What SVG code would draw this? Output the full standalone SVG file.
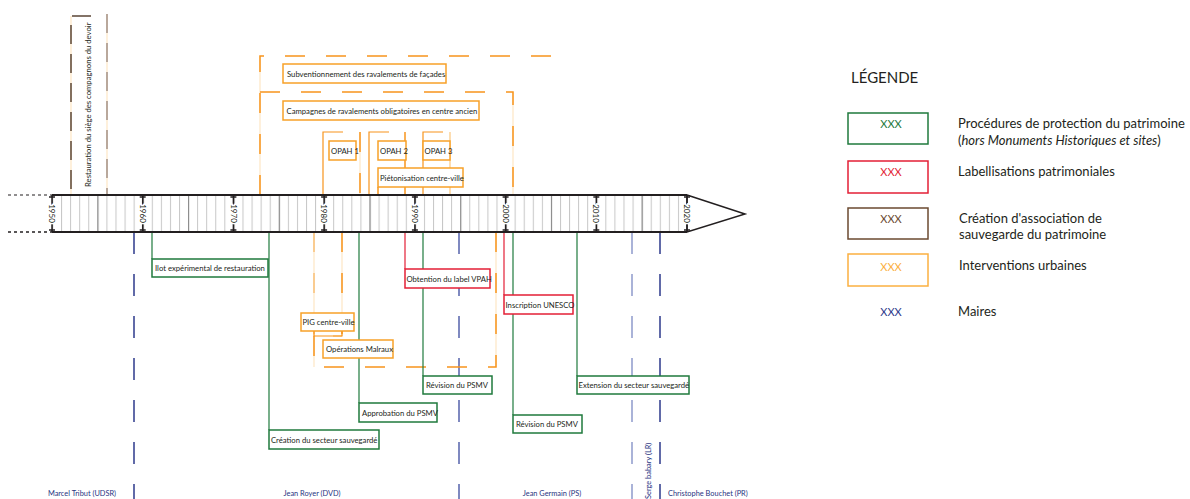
<svg xmlns="http://www.w3.org/2000/svg" width="1190" height="499" viewBox="0 0 1190 499">
<style>
text{font-family:Lato,"Open Sans","Liberation Sans",sans-serif;fill:#231f20}
.lbl{font-size:7.7px}
.yr{font-size:8px;paint-order:stroke;stroke:#fff;stroke-width:3px}
.may{font-size:7.4px;fill:#27347f}
.bg{fill:#fff;stroke-width:1.5}
.g{stroke:#1f7a3d}
.r{stroke:#e31f36}
.o{stroke:#f7a128}
.ln{fill:none;stroke-width:1.2}
.od{fill:none;stroke:#f7941d;stroke-width:1.5;stroke-dasharray:20 21}
.op{fill:none;stroke:#fde6c4;stroke-width:1.2}
.bd{fill:none;stroke-width:1.5;stroke-dasharray:19 10}
.leg{font-size:13px}
.xxx{font-size:11px;text-anchor:middle}
</style>
<defs>
<pattern id="yr1" patternUnits="userSpaceOnUse" x="52" y="195" width="9.0714" height="37">
<line x1="0.5" y1="0" x2="0.5" y2="37" stroke="#c6c6c6" stroke-width="1"/>
</pattern>
<pattern id="yr5" patternUnits="userSpaceOnUse" x="52" y="195" width="45.357" height="37">
<line x1="0.5" y1="0" x2="0.5" y2="37" stroke="#8a8a8a" stroke-width="1.2"/>
</pattern>
</defs>

<!-- mayors lines -->
<g id="mayor-lines" fill="none" stroke-width="1.5" stroke-dasharray="22 20">
<line x1="134" y1="232" x2="134" y2="499" stroke="#2e3a8c"/>
<line x1="459" y1="232" x2="459" y2="499" stroke="#5563ac"/>
<line x1="632" y1="232" x2="632" y2="499" stroke="#8e9acb"/>
<line x1="660" y1="232" x2="660" y2="499" stroke="#2e3a8c"/>
</g>

<!-- connectors -->
<g id="connectors">
<!-- brown bracket -->
<line x1="71" y1="16" x2="71" y2="195" class="op"/>
<line x1="107" y1="14" x2="107" y2="195" class="op"/>
<path d="M91,16 H71 V195" class="bd" stroke="#5b4636"/>
<line x1="107" y1="14" x2="107" y2="195" class="bd" stroke="#a39087"/>
<!-- orange top structure -->
<line x1="260" y1="56" x2="260" y2="195" class="op"/>
<line x1="513" y1="92" x2="513" y2="195" class="op"/>
<path d="M260,195 V56 H568" class="od"/>
<path d="M260,92 H513 V195" class="od"/>
<!-- OPAH brackets -->
<path d="M343,132 H323 V195" class="ln" stroke="#f7941d" stroke-width="1.5"/>
<line x1="360" y1="132" x2="360" y2="195" class="op"/>
<line x1="360" y1="132" x2="360" y2="195" class="od" stroke-dasharray="12 8"/>
<path d="M389,132 H369 V195" class="ln" stroke="#f7941d" stroke-width="1.5"/>
<line x1="405" y1="132" x2="405" y2="195" stroke="#f7941d" stroke-width="1.5"/>
<path d="M443,132 H423 V195" class="ln" stroke="#f7941d" stroke-width="1.5"/>
<line x1="450" y1="132" x2="450" y2="195" stroke="#fbc77c" stroke-width="1.2"/>
<line x1="378" y1="187" x2="378" y2="195" stroke="#f7941d" stroke-width="1.5"/>
<!-- below: PIG and Malraux brackets -->
<line x1="314" y1="232" x2="314" y2="367" class="op"/>
<line x1="342" y1="232" x2="342" y2="336" class="op"/>
<line x1="496" y1="232" x2="496" y2="367" class="op"/>
<line x1="342" y1="232" x2="342" y2="336" class="od"/>
<path d="M314,232 V336 H342" class="ln" stroke="#f7b560" stroke-width="1.2" stroke-dasharray="20 21"/>
<path d="M314,331 V336 H342 V331" class="ln" stroke="#f7941d" stroke-width="1.5"/>
<path d="M314,336 V367 H496 V232" class="od"/>
<!-- green / red stems -->
<g class="ln" stroke-width="1.5">
<line x1="152" y1="232" x2="152" y2="259" class="g"/>
<line x1="269" y1="232" x2="269" y2="430" class="g"/>
<line x1="359" y1="232" x2="359" y2="403" class="g"/>
<line x1="423" y1="232" x2="423" y2="376" class="g"/>
<line x1="513" y1="232" x2="513" y2="415" class="g"/>
<line x1="577" y1="232" x2="577" y2="376" class="g"/>
<line x1="405" y1="232" x2="405" y2="269" class="r"/>
<line x1="504" y1="232" x2="504" y2="295" class="r"/>
</g>
</g>

<!-- timeline -->
<g id="timeline">
<line x1="8" y1="195" x2="52" y2="195" stroke="#231f20" stroke-width="1.2" stroke-dasharray="3 3"/>
<line x1="8" y1="232" x2="52" y2="232" stroke="#231f20" stroke-width="1.5" stroke-dasharray="3 3"/>
<rect x="52" y="195" width="635" height="37" fill="#fff"/>
<rect x="52" y="195" width="635" height="37" fill="url(#yr1)"/>
<rect x="52" y="195" width="635" height="37" fill="url(#yr5)"/>
<polygon points="687,195 745,214 687,232" fill="#fff" stroke="#231f20" stroke-width="1.5"/>
<g stroke="#231f20" stroke-width="1.5">
<line x1="52" y1="195" x2="52" y2="232"/><line x1="49" y1="197" x2="55" y2="197"/><line x1="49" y1="230" x2="55" y2="230"/>
<line x1="142.7" y1="195" x2="142.7" y2="232"/><line x1="139.7" y1="197" x2="145.7" y2="197"/><line x1="139.7" y1="230" x2="145.7" y2="230"/>
<line x1="233.4" y1="195" x2="233.4" y2="232"/><line x1="230.4" y1="197" x2="236.4" y2="197"/><line x1="230.4" y1="230" x2="236.4" y2="230"/>
<line x1="324.1" y1="195" x2="324.1" y2="232"/><line x1="321.1" y1="197" x2="327.1" y2="197"/><line x1="321.1" y1="230" x2="327.1" y2="230"/>
<line x1="414.9" y1="195" x2="414.9" y2="232"/><line x1="411.9" y1="197" x2="417.9" y2="197"/><line x1="411.9" y1="230" x2="417.9" y2="230"/>
<line x1="505.6" y1="195" x2="505.6" y2="232"/><line x1="502.6" y1="197" x2="508.6" y2="197"/><line x1="502.6" y1="230" x2="508.6" y2="230"/>
<line x1="596.3" y1="195" x2="596.3" y2="232"/><line x1="593.3" y1="197" x2="599.3" y2="197"/><line x1="593.3" y1="230" x2="599.3" y2="230"/>
<line x1="687" y1="195" x2="687" y2="232"/><line x1="684" y1="197" x2="690" y2="197"/><line x1="684" y1="230" x2="690" y2="230"/>
<line x1="52" y1="195" x2="687" y2="195" stroke-width="2"/>
<line x1="52" y1="232" x2="687" y2="232" stroke-width="2"/>
</g>
<g text-anchor="middle">
<text transform="translate(52,213.5) rotate(90)" y="2.8" class="yr">1950</text>
<text transform="translate(142.7,213.5) rotate(90)" y="2.8" class="yr">1960</text>
<text transform="translate(233.4,213.5) rotate(90)" y="2.8" class="yr">1970</text>
<text transform="translate(324.1,213.5) rotate(90)" y="2.8" class="yr">1980</text>
<text transform="translate(414.9,213.5) rotate(90)" y="2.8" class="yr">1990</text>
<text transform="translate(505.6,213.5) rotate(90)" y="2.8" class="yr">2000</text>
<text transform="translate(596.3,213.5) rotate(90)" y="2.8" class="yr">2010</text>
<text transform="translate(687,213.5) rotate(90)" y="2.8" class="yr">2020</text>
</g>
</g>

<!-- brown node -->
<g id="n-compagnons">
<text class="lbl" transform="translate(91,187) rotate(-90)">Restauration du siège des compagnons du devoir</text>
</g>

<!-- orange nodes -->
<g id="n-subvention"><rect x="283" y="64" width="163" height="19" class="bg o"/><text class="lbl" x="287" y="76.5">Subventionnement des ravalements de façades</text></g>
<g id="n-campagnes"><rect x="283" y="101" width="196" height="19" class="bg o"/><text class="lbl" x="286.5" y="113.5">Campagnes de ravalements obligatoires en centre ancien</text></g>
<g id="n-opah1"><rect x="329" y="141" width="27" height="19" class="bg o"/><text class="lbl" x="331" y="153.5">OPAH 1</text></g>
<g id="n-opah2"><rect x="378" y="141" width="28" height="19" class="bg o"/><text class="lbl" x="380" y="153.5">OPAH 2</text></g>
<g id="n-opah3"><rect x="423" y="141" width="27" height="19" class="bg o"/><text class="lbl" x="424.5" y="153.5">OPAH 3</text></g>
<g id="n-pieton"><rect x="378" y="168" width="85" height="19" class="bg o"/><text class="lbl" x="380" y="180.5">Piétonisation centre-ville</text></g>
<g id="n-pig"><rect x="301" y="313" width="53" height="18" class="bg o"/><text class="lbl" x="302.5" y="325">PIG centre-ville</text></g>
<g id="n-malraux"><rect x="323" y="340" width="70" height="18" class="bg o"/><text class="lbl" x="326" y="352">Opérations Malraux</text></g>

<!-- green nodes -->
<g id="n-ilot"><rect x="152" y="259" width="116" height="18" class="bg g"/><text class="lbl" x="155" y="271">Ilot expérimental de restauration</text></g>
<g id="n-creation"><rect x="269" y="430" width="110" height="19" class="bg g"/><text class="lbl" x="271" y="442.5">Création du secteur sauvegardé</text></g>
<g id="n-approbation"><rect x="359" y="403" width="78" height="19" class="bg g"/><text class="lbl" x="362" y="415.5">Approbation du PSMV</text></g>
<g id="n-revision1"><rect x="423" y="376" width="69" height="18" class="bg g"/><text class="lbl" x="426" y="388">Révision du PSMV</text></g>
<g id="n-revision2"><rect x="513" y="415" width="69" height="18" class="bg g"/><text class="lbl" x="516" y="427">Révision du PSMV</text></g>
<g id="n-extension"><rect x="577" y="376" width="112" height="18" class="bg g"/><text class="lbl" x="578.5" y="388">Extension du secteur sauvegardé</text></g>

<!-- red nodes -->
<g id="n-vpah"><rect x="405" y="269" width="85" height="19" class="bg r"/><text class="lbl" x="406.5" y="281.5">Obtention du label VPAH</text></g>
<g id="n-unesco"><rect x="504" y="295" width="69" height="19" class="bg r"/><text class="lbl" x="505.5" y="307.5">Inscription UNESCO</text></g>

<!-- mayors names -->
<g id="mayors">
<text class="may" x="82" y="496" text-anchor="middle">Marcel Tribut (UDSR)</text>
<text class="may" x="312" y="496" text-anchor="middle">Jean Royer (DVD)</text>
<text class="may" x="552" y="496" text-anchor="middle">Jean Germain (PS)</text>
<text class="may" transform="translate(651,499) rotate(-90)">Serge babary (LR)</text>
<text class="may" x="668" y="496">Christophe Bouchet (PR)</text>
</g>

<!-- legend -->
<g id="legend">
<text x="851" y="83" font-size="15">LÉGENDE</text>
<rect x="848" y="113" width="80" height="31" fill="#fff" stroke="#1f7a3d" stroke-width="1.5"/>
<text class="xxx" x="891" y="128" style="fill:#1f7a3d">XXX</text>
<text class="leg" x="958" y="128">Procédures de protection du patrimoine</text>
<text class="leg" x="958" y="145">(<tspan font-style="italic">hors Monuments Historiques et sites</tspan>)</text>
<rect x="848" y="161" width="80" height="32" fill="#fff" stroke="#e31f36" stroke-width="1.5"/>
<text class="xxx" x="891" y="176" style="fill:#e31f36">XXX</text>
<text class="leg" x="958" y="176">Labellisations patrimoniales</text>
<rect x="848" y="208" width="80" height="31" fill="#fff" stroke="#6b4a30" stroke-width="1.5"/>
<text class="xxx" x="891" y="223" style="fill:#6b4a30">XXX</text>
<text class="leg" x="959" y="223">Création d'association de</text>
<text class="leg" x="959" y="239">sauvegarde du patrimoine</text>
<rect x="848" y="254" width="80" height="32" fill="#fff" stroke="#fbb040" stroke-width="1.5"/>
<text class="xxx" x="891" y="271" style="fill:#fbb040">XXX</text>
<text class="leg" x="959" y="270">Interventions urbaines</text>
<text class="xxx" x="891" y="316" style="fill:#2e3a8c">XXX</text>
<text class="leg" x="958" y="316">Maires</text>
</g>
</svg>
